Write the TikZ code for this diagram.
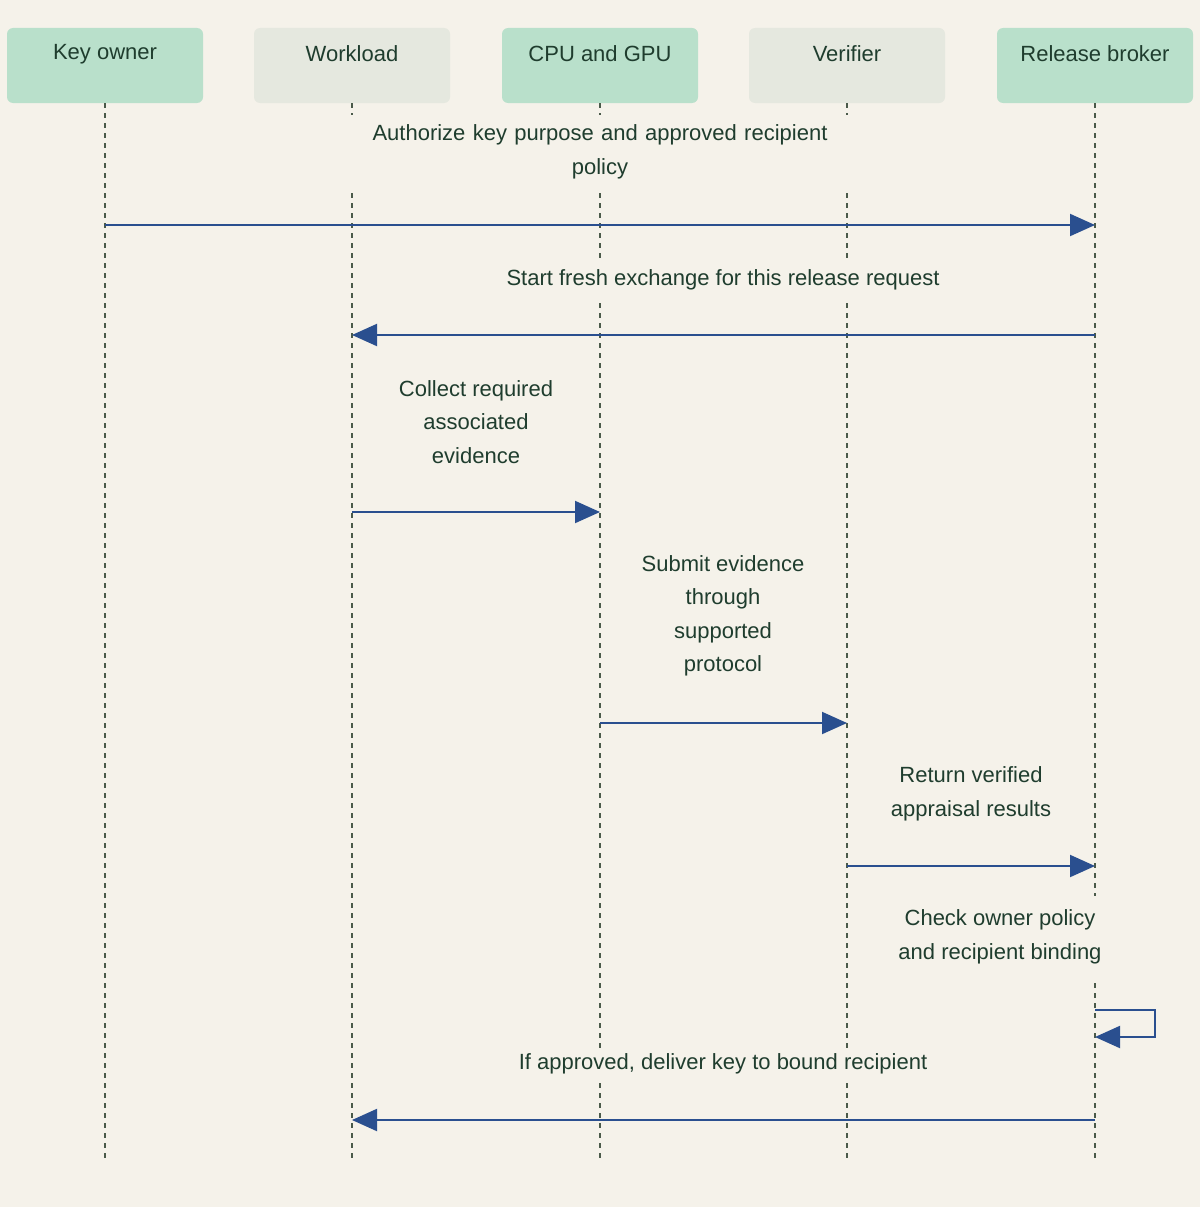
\documentclass[tikz,border=0pt]{standalone}
\usepackage{fontspec}
\setmainfont{Liberation Sans}
\usetikzlibrary{arrows.meta}
\definecolor{bg}{HTML}{F5F2EA}
\definecolor{hg}{HTML}{B9E0CB}
\definecolor{hl}{HTML}{E5E8DF}
\definecolor{tx}{HTML}{1F3D2E}
\definecolor{ll}{HTML}{4A5A4A}
\definecolor{ar}{HTML}{2A4F8F}
\tikzset{
 hdr/.style={rounded corners=6pt,minimum width=196pt,minimum height=75pt,inner sep=0pt,text=tx,font=\fontsize{22}{33.5}\selectfont},
 life/.style={draw=ll,line width=2pt,dash pattern=on 5pt off 5pt},
 msg/.style={draw=ar,line width=2pt,-{Triangle[length=25pt,width=22pt]}},
 lbl/.style={fill=bg,text=tx,align=center,font=\fontsize{22}{33.5}\selectfont,inner xsep=4pt,inner ysep=10pt}
}
\begin{document}
\begin{tikzpicture}[x=1pt,y=-1pt]
\fill[bg] (0,0) rectangle (1200,1207);
\useasboundingbox (0,0) rectangle (1200,1207);
\foreach \n/\x/\c/\t in {ko/105/hg/Key owner,wl/352/hl/Workload,cg/600/hg/CPU and GPU,vf/847/hl/Verifier,rb/1095/hg/Release broker}{
 \node[hdr,fill=\c] (\n) at (\x,65.5) {};
 \node[text=tx,font=\fontsize{22}{33.5}\selectfont] (\n t) at (\x,54) {\t};
 \coordinate (\n b) at (\x,1160);
 \draw[life] (\n.south) -- (\n b);
}
% message 1
\node[lbl,text width=520pt] (l1) at (600,152) {Authorize key purpose and approved recipient\\policy};
\coordinate (m1a) at (105,225); \coordinate (m1b) at (1095,225);
\draw[msg] (m1a) -- (m1b);
% message 2
\node[lbl] (l2) at (723,280) {Start fresh exchange for this release request};
\coordinate (m2a) at (1095,335); \coordinate (m2b) at (352,335);
\draw[msg] (m2a) -- (m2b);
% message 3
\node[lbl,inner ysep=12pt] (l3) at (476,422) {Collect required\\associated\\evidence};
\coordinate (m3a) at (352,512); \coordinate (m3b) at (600,512);
\draw[msg] (m3a) -- (m3b);
% message 4
\node[lbl] (l4) at (723,616) {Submit evidence\\through\\supported\\protocol};
\coordinate (m4a) at (600,723); \coordinate (m4b) at (847,723);
\draw[msg] (m4a) -- (m4b);
% message 5
\node[lbl,inner ysep=12pt] (l5) at (971,794) {Return verified\\appraisal results};
\coordinate (m5a) at (847,866); \coordinate (m5b) at (1095,866);
\draw[msg] (m5a) -- (m5b);
% message 6 (self)
\node[lbl,inner ysep=14pt] (l6) at (1000,937) {Check owner policy\\and recipient binding};
\coordinate (m6a) at (1095,1010); \coordinate (m6b) at (1095,1037);
\draw[msg] (m6a) -- (1155,1010) -- (1155,1037) -- (m6b);
% message 7
\node[lbl,inner ysep=4pt] (l7) at (723,1064) {If approved, deliver key to bound recipient};
\coordinate (m7a) at (1095,1120); \coordinate (m7b) at (352,1120);
\draw[msg] (m7a) -- (m7b);
\end{tikzpicture}
\end{document}
